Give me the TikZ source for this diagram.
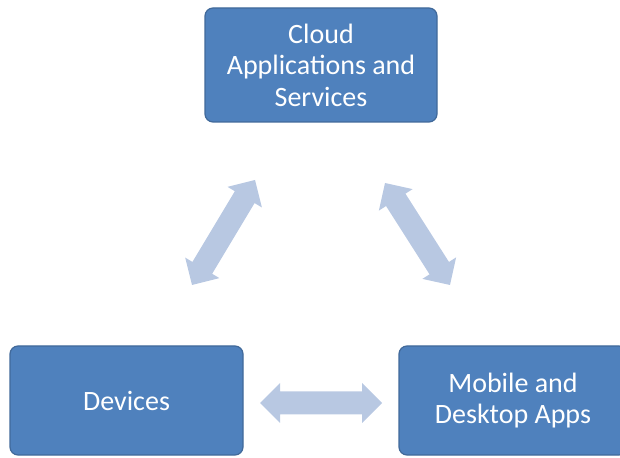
\documentclass[tikz,border=0pt]{standalone}
\usepackage{fontspec}
\setmainfont{Carlito}
\usetikzlibrary{calc}
\definecolor{boxfill}{HTML}{4F81BD}
\definecolor{boxline}{HTML}{41699A}
\definecolor{arrowfill}{HTML}{B8C8E2}
\begin{document}
\begin{tikzpicture}[x=1pt,y=1pt,
  box/.style={draw=boxline, line width=1.2pt, fill=boxfill, rounded corners=8pt,
    text=white, align=center, font=\fontsize{28}{31.5}\selectfont, inner sep=0pt},
  dblarr/.style={fill=arrowfill, draw=none}]
\useasboundingbox (0,0) rectangle (620,457);
\node[box, minimum width=232, minimum height=114] (cloud) at (321,392) {Cloud\\Applications and\\Services};
\node[box, minimum width=233, minimum height=109] (dev) at (126.5,56.5) {Devices};
\node[box, minimum width=228, minimum height=109] (mob) at (513,56.5) {Mobile and\\Desktop Apps};
% arrow endpoints
\coordinate (h1) at (260,54);
\coordinate (h2) at (382,54);
\coordinate (l1) at (192,172);
\coordinate (l2) at (255,277);
\coordinate (r1) at (385,274);
\coordinate (r2) at (450,172);
\def\dbl#1#2{%
  \path[dblarr] let \p1=($(#2)-(#1)$), \n1={veclen(\x1,\y1)}, \n2={atan2(\y1,\x1)} in
    [shift={(#1)}, rotate=\n2]
    (0,0) -- (20,20) -- (20,11.5) -- (\n1-20,11.5) -- (\n1-20,20) -- (\n1,0)
    -- (\n1-20,-20) -- (\n1-20,-11.5) -- (20,-11.5) -- (20,-20) -- cycle;}
\dbl{h1}{h2}
\dbl{l1}{l2}
\dbl{r1}{r2}
\end{tikzpicture}
\end{document}
